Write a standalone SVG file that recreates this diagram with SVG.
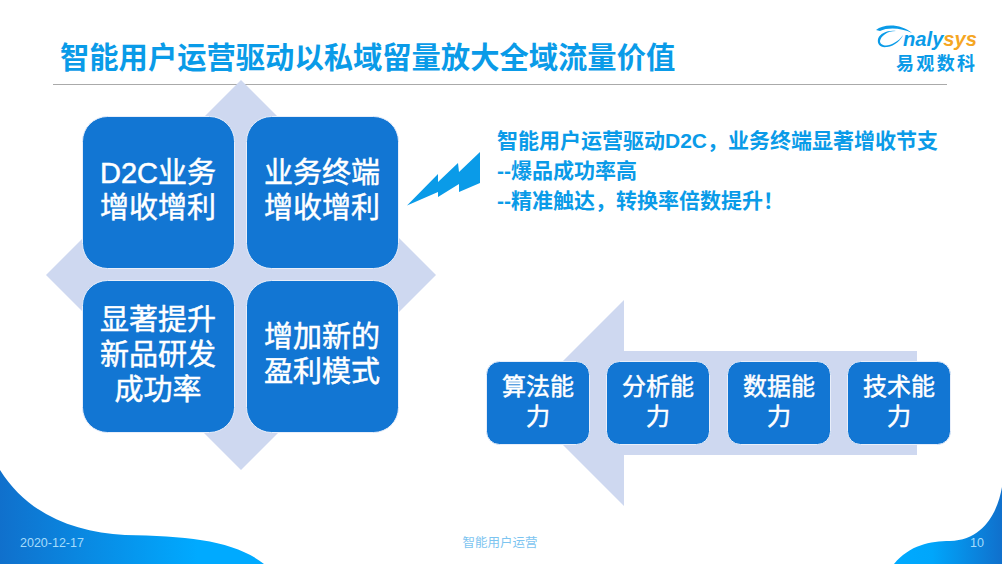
<svg xmlns="http://www.w3.org/2000/svg" width="1002" height="564" viewBox="0 0 1002 564">
<defs>
<linearGradient id="gl" x1="0" x2="1" y1="0" y2="0"><stop offset="0" stop-color="#1070cc"/><stop offset="0.75" stop-color="#00aaff"/><stop offset="1" stop-color="#00aaff"/></linearGradient>
<linearGradient id="gr" x1="0" x2="1" y1="0" y2="0"><stop offset="0" stop-color="#00aaff"/><stop offset="0.35" stop-color="#00a6fb"/><stop offset="1" stop-color="#1070cc"/></linearGradient>
</defs>
<style>
text{font-family:"Liberation Sans","Noto Sans CJK SC",sans-serif}
.box{fill:#1276d3;stroke:#e8eefa;stroke-width:1}
.big{font-size:29px;fill:#fff;stroke:#fff;stroke-width:.5;text-anchor:middle}
.mid{font-size:24px;fill:#fff;stroke:#fff;stroke-width:.5;text-anchor:middle}
.call{font-size:21px;font-weight:bold;fill:#0a9be8}
.foot{font-size:12.500px;fill:#a5dcfb}
.bg{fill:#ced8f0}
</style>
<rect width="1002" height="564" fill="#fff"/>
<g id="bg-shapes">
<path d="M0 470C28 515 75 532 125 535C190 536 235 541 264 564L0 564Z" fill="url(#gl)"/>
<path d="M894 564C910 545 930 541 950 541C985 540 998 510 1002 487L1002 564Z" fill="url(#gr)"/>
</g>
<g id="title">
<text x="60" y="68" font-size="29.300" font-weight="bold" fill="#0a9be8">智能用户运营驱动以私域留量放大全域流量价值</text>
<line x1="53" y1="84.500" x2="947" y2="84.500" stroke="#aaa" stroke-width="1"/>
</g>
<g id="logo">
<path d="M876 30C884 23 902 24 912 33C902 28 888 27 880 31Z" fill="#0a9be8"/>
<path d="M896 31C887 31 881 36 880 41C880 46 888 47 894 43C898 41 901 38 903 35C901 40 895 46 887 47C880 48 877 44 878 39C880 33 888 30 896 31Z" fill="#0a9be8"/>
<text x="903" y="46" font-size="21" font-style="italic" font-weight="bold" fill="#0a9be8" textLength="74" lengthAdjust="spacingAndGlyphs">naly<tspan fill="#f5a623">sys</tspan></text>
<text x="896" y="70" font-size="18" font-weight="bold" fill="#0a9be8" textLength="79">易观数科</text>
</g>
<g id="diamond"><polygon class="bg" points="241,80 436,275 241,470 46,275"/></g>
<g id="node-d2c"><rect class="box" x="82.500" y="116.500" width="152" height="152" rx="25"/><text class="big" x="158" y="183">D2C业务</text><text class="big" x="158" y="218">增收增利</text></g>
<g id="node-terminal"><rect class="box" x="246.500" y="116.500" width="152" height="152" rx="25"/><text class="big" x="322" y="183">业务终端</text><text class="big" x="322" y="218">增收增利</text></g>
<g id="node-success"><rect class="box" x="82.500" y="280.500" width="152" height="152" rx="25"/><text class="big" x="158" y="330">显著提升</text><text class="big" x="158" y="365">新品研发</text><text class="big" x="158" y="400">成功率</text></g>
<g id="node-profit"><rect class="box" x="246.500" y="280.500" width="152" height="152" rx="25"/><text class="big" x="322" y="347">增加新的</text><text class="big" x="322" y="382">盈利模式</text></g>
<g id="bolt"><polygon points="407,205.500 438,174 438,182 458,163 459,172 480,152 480,183 459,192 459,184 438,197 438,192" fill="#0a9be8"/></g>
<g id="callout">
<text class="call" x="497" y="148">智能用户运营驱动D2C，业务终端显著增收节支</text>
<text class="call" x="497" y="178">--爆品成功率高</text>
<text class="call" x="497" y="208">--精准触达，转换率倍数提升！</text>
</g>
<g id="arrow"><polygon class="bg" points="624,300 624,351 917,351 917,455 624,455 624,506 521,403"/></g>
<g id="node-algo"><rect class="box" x="486.500" y="361.500" width="103" height="83" rx="13"/><text class="mid" x="538" y="395">算法能</text><text class="mid" x="538" y="425">力</text></g>
<g id="node-analysis"><rect class="box" x="606.500" y="361.500" width="103" height="83" rx="13"/><text class="mid" x="658" y="395">分析能</text><text class="mid" x="658" y="425">力</text></g>
<g id="node-data"><rect class="box" x="727.500" y="361.500" width="103" height="83" rx="13"/><text class="mid" x="779" y="395">数据能</text><text class="mid" x="779" y="425">力</text></g>
<g id="node-tech"><rect class="box" x="847.500" y="361.500" width="103" height="83" rx="13"/><text class="mid" x="899" y="395">技术能</text><text class="mid" x="899" y="425">力</text></g>
<g id="footer">
<text class="foot" x="20" y="547">2020-12-17</text>
<text class="foot" x="500" y="547" text-anchor="middle" style="fill:#7cc4f0">智能用户运营</text>
<text class="foot" x="984" y="547" text-anchor="end">10</text>
</g>
<g id="connectors"></g>
</svg>
